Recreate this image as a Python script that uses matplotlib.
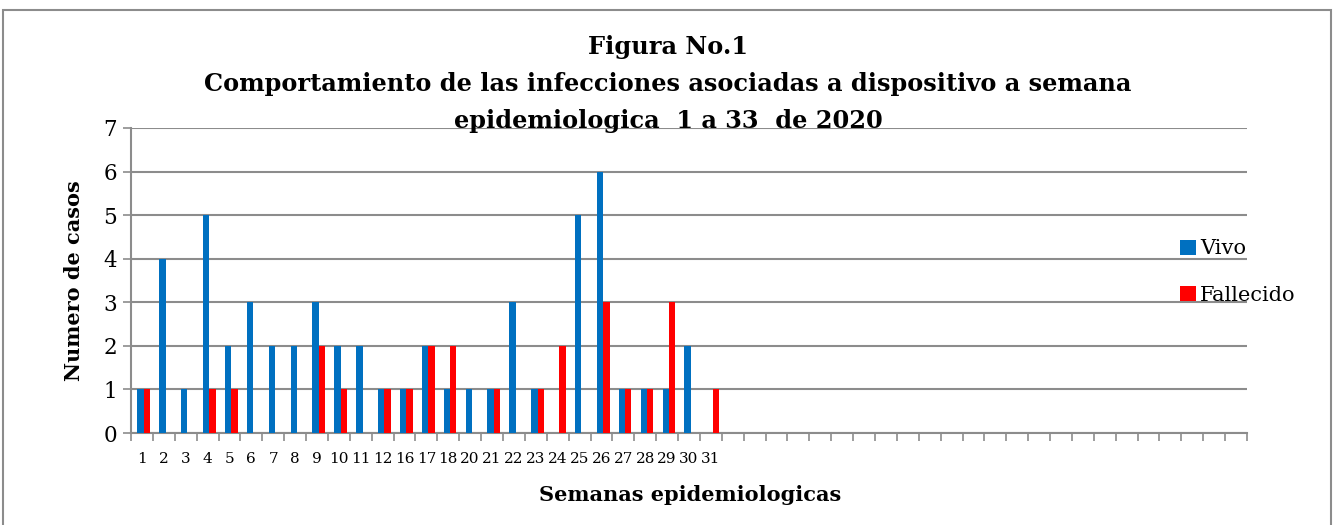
import matplotlib
matplotlib.use('Agg')
import matplotlib.pyplot as plt
from matplotlib.patches import Rectangle
import numpy as np

# semanas con datos (el resto de categorias quedan vacias)
SEMANAS = ["1", "2", "3", "4", "5", "6", "7", "8", "9", "10", "11", "12",
           "16", "17", "18", "20", "21", "22", "23", "24", "25", "26", "27",
           "28", "29", "30", "31"]
VIVO = [1, 4, 1, 5, 2, 3, 2, 2, 3, 2, 2, 1, 1, 2, 1, 1, 1, 3, 1, 0, 5, 6, 1,
        1, 1, 2, 0]
FALLECIDO = [1, 0, 0, 1, 1, 0, 0, 0, 2, 1, 0, 1, 1, 2, 2, 0, 1, 0, 1, 2, 0, 3,
             1, 1, 3, 0, 1]
N_CATEGORIAS = 51

AZUL = "#0070C0"
ROJO = "#FF0000"
GRIS = "#8C8C8C"
SERIF = ["DejaVu Serif"]

plt.rcParams['font.family'] = SERIF

fig = plt.figure(figsize=(13.34, 5.25), dpi=100)
fig.patch.set_facecolor("white")

# marco exterior del grafico (el borde inferior queda fuera de la imagen)
fig.patches.append(Rectangle((3 / 1334, -10 / 525), 1328 / 1334, 525 / 525,
                             transform=fig.transFigure, fill=False,
                             edgecolor=GRIS, linewidth=1.5))

ax = fig.add_axes([131 / 1334, 1 - 433 / 525, 1116 / 1334, 305 / 525])

x = np.arange(len(SEMANAS))
w = 0.29
ax.bar(x - w / 2 + 0.08, VIVO, width=w, color=AZUL, label="Vivo", zorder=3)
ax.bar(x + w / 2 + 0.08, FALLECIDO, width=w, color=ROJO, label="Fallecido",
       zorder=3)

ax.set_xlim(-0.5, N_CATEGORIAS - 0.5)
ax.set_ylim(0, 7)
ax.set_yticks(range(0, 8))
ax.yaxis.grid(True, color=GRIS, linewidth=1.5, zorder=0)
ax.set_axisbelow(True)

ax.set_xticks(x)
ax.set_xticklabels(SEMANAS, fontsize=11)
ax.set_xticks(np.arange(-0.5, N_CATEGORIAS, 1), minor=True)
ax.tick_params(axis="x", which="major", length=0, pad=14)
ax.tick_params(axis="x", which="minor", length=6, width=1.2, color=GRIS,
               direction="out")
ax.tick_params(axis="y", length=6, width=1.2, color=GRIS, labelsize=15.5,
               pad=4)

for s in ["top", "right"]:
    ax.spines[s].set_visible(False)
for s in ["left", "bottom"]:
    ax.spines[s].set_color(GRIS)
    ax.spines[s].set_linewidth(1.5)

ax.set_ylabel("Numero de casos", fontsize=15, fontweight="bold", labelpad=14)
fig.text(690 / 1334, 1 - 495 / 525, "Semanas epidemiologicas", fontsize=15,
         fontweight="bold", ha="center", va="center")

fig.text(668 / 1334, 1 - 84 / 525,
         "Figura No.1\nComportamiento de las infecciones asociadas a dispositivo a semana\n"
         "epidemiologica  1 a 33  de 2020",
         fontsize=17.3, fontweight="bold", ha="center", va="center",
         linespacing=1.68)

ax.legend(loc="center left", bbox_to_anchor=(1172 / 1334, 1 - 272 / 525),
          bbox_transform=fig.transFigure, frameon=False, fontsize=15,
          handlelength=0.75, handleheight=0.75, handletextpad=0.2,
          labelspacing=1.3, borderaxespad=0)

fig.savefig("out.png", dpi=100)
